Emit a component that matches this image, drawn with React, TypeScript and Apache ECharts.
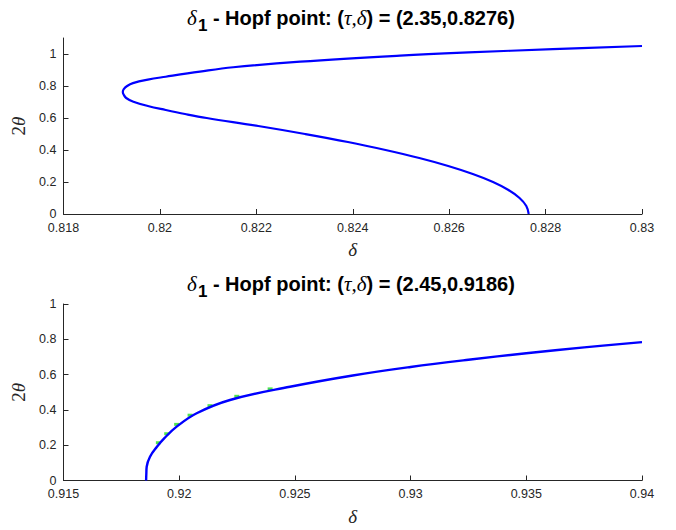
import React, { useEffect, useRef } from 'react';
import * as echarts from 'echarts';

// Top panel: Hopf point (tau, delta) = (2.35, 0.8276)
const topTheta = [0, 0.05, 0.1, 0.15, 0.2, 0.25, 0.3, 0.35, 0.4, 0.45, 0.5, 0.55, 0.6, 0.625, 0.65, 0.675, 0.702, 0.725, 0.745, 0.7625, 0.78, 0.8, 0.818, 0.84, 0.858, 0.89, 0.917, 0.952, 0.99, 1.01, 1.03, 1.05];
const topDelta = [0.82765, 0.8276, 0.82746, 0.82723, 0.82691, 0.82649, 0.82598, 0.82538, 0.82468, 0.8239, 0.82301, 0.82204, 0.82097, 0.82052, 0.82012, 0.81975, 0.81945, 0.8193, 0.81925, 0.81923, 0.81925, 0.81932, 0.81944, 0.81975, 0.82012, 0.82083, 0.82152, 0.82291, 0.82498, 0.8264, 0.82815, 0.83];

// Bottom panel: Hopf point (tau, delta) = (2.45, 0.9186)
const bottomTheta = [0, 0.04, 0.078, 0.135, 0.19, 0.24, 0.305, 0.381, 0.456, 0.531, 0.595, 0.643, 0.684, 0.721, 0.754, 0.784];
const bottomDelta = [0.91857, 0.91858, 0.918595, 0.918738, 0.91903, 0.91936, 0.91989, 0.920756, 0.922195, 0.924788, 0.9275, 0.93, 0.9325, 0.935, 0.9375, 0.94];

// Green marks visible just above the bottom curve
const greenTheta = [0.214, 0.265, 0.318, 0.37, 0.424, 0.477, 0.519];
const greenDelta = [0.9191, 0.91946, 0.91989, 0.92047, 0.92133, 0.92249, 0.92393];

const yTicks = [0, 0.2, 0.4, 0.6, 0.8, 1];
const titles = ['(2.35,0.8276)', '(2.45,0.9186)'];

export default function App() {
  const ref = useRef<HTMLDivElement>(null);
  useEffect(() => {
    document.body.style.margin = '0';
    const chart = echarts.init(ref.current!, null, { renderer: 'svg' });
    const axisColor = '#262626';
    const sans = '"Liberation Sans", Arial, sans-serif';
    const serif = '"Liberation Serif", "Times New Roman", serif';
    const fmt = (v: number) => String(parseFloat(v.toFixed(4)));

    const xAxis = (min: number, max: number, interval: number, gridIndex: number) => ({
      type: 'value',
      gridIndex,
      min,
      max,
      interval,
      name: 'δ',
      nameLocation: 'middle',
      nameGap: 26,
      nameTextStyle: { fontFamily: serif, fontStyle: 'italic', fontSize: 19, color: axisColor },
      axisLine: { show: true, onZero: false, lineStyle: { color: axisColor, width: 1 } },
      axisTick: { show: true, inside: true, length: 5, lineStyle: { color: axisColor } },
      axisLabel: { fontFamily: sans, fontSize: 12.5, color: axisColor, margin: 7, formatter: fmt },
      splitLine: { show: false },
    });
    const yAxis = (max: number, gridIndex: number) => ({
      type: 'value',
      gridIndex,
      min: 0,
      max,
      interval: 0.2,
      name: '{n|2}{t|θ}',
      nameLocation: 'middle',
      nameGap: 26,
      nameTextStyle: {
        color: axisColor,
        rich: {
          n: { fontFamily: serif, fontSize: 19, color: axisColor },
          t: { fontFamily: serif, fontStyle: 'italic', fontSize: 19, color: axisColor },
        },
      },
      axisLine: { show: true, onZero: false, lineStyle: { color: axisColor, width: 1 } },
      axisTick: { show: true, inside: true, length: 5, customValues: yTicks, lineStyle: { color: axisColor } },
      axisLabel: { fontFamily: sans, fontSize: 12.5, color: axisColor, margin: 7, customValues: yTicks, formatter: fmt },
      splitLine: { show: false },
    });

    const titleText = (val: string, y: number) => ({
      type: 'text',
      x: 351,
      y,
      style: {
        text: `{d|δ}{s|1}{b| - Hopf point: (}{i|τ,δ}{b|) = ${val}}`,
        align: 'center',
        verticalAlign: 'middle',
        fill: '#000',
        rich: {
          d: { fontFamily: serif, fontStyle: 'italic', fontSize: 21, fill: '#000' },
          s: { fontFamily: sans, fontWeight: 'bold', fontSize: 17, padding: [14, 0, 0, 1], fill: '#000' },
          b: { fontFamily: sans, fontWeight: 'bold', fontSize: 20, fill: '#000' },
          i: { fontFamily: serif, fontStyle: 'italic', fontSize: 21, fill: '#000' },
        },
      },
    });

    chart.setOption({
      animation: false,
      backgroundColor: '#ffffff',
      grid: [
        { left: 63.5, right: 34, top: 38, height: 176 },
        { left: 63.5, right: 34, top: 304, height: 176.5 },
      ],
      xAxis: [xAxis(0.818, 0.83, 0.002, 0), xAxis(0.915, 0.94, 0.005, 1)],
      yAxis: [yAxis(1.1, 0), yAxis(1, 1)],
      graphic: [titleText(titles[0], 18), titleText(titles[1], 284)],
      series: [
        {
          type: 'line',
          xAxisIndex: 0,
          yAxisIndex: 0,
          data: topDelta.map((d, i) => [d, topTheta[i]]),
          showSymbol: false,
          smooth: 0.4,
          lineStyle: { color: '#0000ff', width: 2.2 },
          z: 3,
        },
        {
          type: 'scatter',
          xAxisIndex: 1,
          yAxisIndex: 1,
          data: greenDelta.map((d, i) => [d, greenTheta[i]]),
          symbol: 'rect',
          symbolSize: [5, 3],
          itemStyle: { color: '#22dd22' },
          z: 2,
        },
        {
          type: 'line',
          xAxisIndex: 1,
          yAxisIndex: 1,
          data: bottomDelta.map((d, i) => [d, bottomTheta[i]]),
          showSymbol: false,
          smooth: 0.4,
          lineStyle: { color: '#0000ff', width: 2.4 },
          z: 3,
        },
      ],
    });
    return () => chart.dispose();
  }, []);
  return <div ref={ref} style={{ position: 'fixed', left: 0, top: 0, width: 676, height: 530 }} />;
}
